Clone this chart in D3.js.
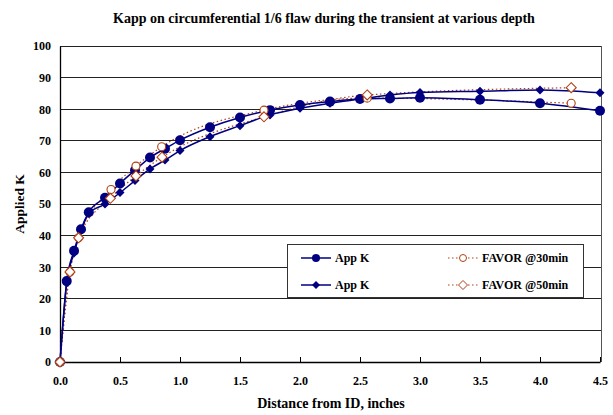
<!DOCTYPE html>
<html><head><meta charset="utf-8">
<script src="https://cdn.jsdelivr.net/npm/d3@7"></script>
<style>body{margin:0;background:#fff}svg{display:block}text{font-family:"Liberation Serif","Times New Roman",serif;font-weight:bold}</style>
</head><body><svg id="c" width="613" height="415"></svg>
<script>
const appK1X = [0, 0.056, 0.117, 0.175, 0.24, 0.375, 0.5, 0.625, 0.75, 0.875, 1.0, 1.25, 1.5, 1.75, 2.0, 2.25, 2.5, 2.75, 3.0, 3.5, 4.0, 4.5];
const appK1Y = [0, 25.6, 35.2, 42, 47.4, 52, 56.5, 60.7, 64.7, 67.5, 70.2, 74.3, 77.4, 79.7, 81.3, 82.4, 83.2, 83.4, 83.6, 83.0, 81.9, 79.5];
const appK2X = [0, 0.056, 0.117, 0.175, 0.24, 0.375, 0.5, 0.625, 0.75, 0.875, 1.0, 1.25, 1.5, 1.75, 2.0, 2.25, 2.5, 2.75, 3.0, 3.5, 4.0, 4.5];
const appK2Y = [0, 25.0, 34.5, 41.5, 47, 50, 53.6, 57.4, 61.1, 63.9, 66.9, 71.3, 74.8, 78.2, 80.3, 81.9, 83.2, 84.5, 85.3, 85.7, 86.1, 85.2];
const fav30X = [0, 0.083, 0.155, 0.425, 0.633, 0.847, 1.7, 2.56, 4.26];
const fav30Y = [0, 28.5, 39.3, 54.6, 62, 68.1, 79.7, 83.5, 81.9];
const fav50X = [0, 0.083, 0.155, 0.42, 0.633, 0.85, 1.7, 2.56, 4.26];
const fav50Y = [0, 28.5, 39.3, 51.8, 58.9, 64.8, 77.6, 84.5, 86.8];
const xTicks = [0, 0.5, 1.0, 1.5, 2.0, 2.5, 3.0, 3.5, 4.0, 4.5];
const yTicks = [0, 10, 20, 30, 40, 50, 60, 70, 80, 90, 100];
const legendLabels = ["App K", "App K", "FAVOR @30min", "FAVOR @50min"];

const svg = d3.select("#c");
const x = d3.scaleLinear().domain([0, 4.5]).range([60, 600]);
const y = d3.scaleLinear().domain([0, 100]).range([362, 46]);
const navy = "#000080", brown = "#b04010";

// gridlines
svg.append("g").selectAll("line").data(yTicks.slice(1)).join("line")
  .attr("x1", 60).attr("x2", 601).attr("y1", d => y(d)).attr("y2", d => y(d))
  .attr("stroke", "#222").attr("stroke-width", 1).attr("shape-rendering", "crispEdges");
// right border
svg.append("line").attr("x1", 601).attr("x2", 601).attr("y1", 46).attr("y2", 362)
  .attr("stroke", "#555").attr("shape-rendering", "crispEdges");

// axes
const xAxis = svg.append("g").attr("transform", "translate(0,362)")
  .call(d3.axisBottom(x).tickValues(xTicks).tickFormat(d3.format(".1f")).tickSizeInner(-5).tickSizeOuter(0).tickPadding(14));
const yAxis = svg.append("g").attr("transform", "translate(60,0)")
  .call(d3.axisLeft(y).tickValues(yTicks).tickSizeInner(0).tickSizeOuter(0).tickPadding(9));
[xAxis, yAxis].forEach(a => {
  a.select(".domain").attr("stroke", "#000").attr("stroke-width", 1.3);
  a.selectAll(".tick line").attr("stroke", "#000");
  a.selectAll("text").attr("font-size", 12).attr("fill", "#000")
    .attr("font-family", '"Liberation Serif",serif').attr("font-weight", "bold");
});

const line = d3.line().x(d => x(d[0])).y(d => y(d[1])).curve(d3.curveMonotoneX);
const zip = (a, b) => a.map((v, i) => [v, b[i]]);
const s1 = zip(appK1X, appK1Y), s2 = zip(appK2X, appK2Y), s3 = zip(fav30X, fav30Y), s4 = zip(fav50X, fav50Y);

svg.append("path").datum(s3).attr("d", line).attr("fill", "none").attr("stroke", brown).attr("stroke-width", 1.2).attr("stroke-dasharray", "1.5,2.5");
svg.append("path").datum(s4).attr("d", line).attr("fill", "none").attr("stroke", brown).attr("stroke-width", 1.2).attr("stroke-dasharray", "1.5,2.5");
svg.append("path").datum(s1).attr("d", line).attr("fill", "none").attr("stroke", navy).attr("stroke-width", 1.5);
svg.append("path").datum(s2).attr("d", line).attr("fill", "none").attr("stroke", navy).attr("stroke-width", 1.5);

const diamond = r => `M0,${-r}L${r},0L0,${r}L${-r},0Z`;
svg.append("g").selectAll("circle").data(s1).join("circle")
  .attr("cx", d => x(d[0])).attr("cy", d => y(d[1])).attr("r", 5).attr("fill", navy);
svg.append("g").selectAll("path").data(s2).join("path")
  .attr("transform", d => `translate(${x(d[0])},${y(d[1])})`).attr("d", diamond(4.5)).attr("fill", navy);
svg.append("g").selectAll("circle").data(s3).join("circle")
  .attr("cx", d => x(d[0])).attr("cy", d => y(d[1])).attr("r", 4).attr("fill", "#fff").attr("stroke", brown).attr("stroke-width", 1.1);
svg.append("g").selectAll("path").data(s4).join("path")
  .attr("transform", d => `translate(${x(d[0])},${y(d[1])})`).attr("d", diamond(5)).attr("fill", "#fff").attr("stroke", brown).attr("stroke-width", 1.1);

// legend
const lg = svg.append("g");
lg.append("rect").attr("x", 287.5).attr("y", 244.5).attr("width", 296).attr("height", 53)
  .attr("fill", "#fff").attr("stroke", "#333").attr("stroke-width", 1);
const items = [
  {lx: 301, ly: 258, c: navy, dash: null, m: "c"},
  {lx: 301, ly: 285, c: navy, dash: null, m: "d"},
  {lx: 448, ly: 258, c: brown, dash: "1.5,2.5", m: "oc"},
  {lx: 448, ly: 285, c: brown, dash: "1.5,2.5", m: "od"}
];
items.forEach((it, i) => {
  lg.append("line").attr("x1", it.lx).attr("x2", it.lx + 30).attr("y1", it.ly).attr("y2", it.ly)
    .attr("stroke", it.c).attr("stroke-width", it.dash ? 1.2 : 1.5).attr("stroke-dasharray", it.dash);
  const cx = it.lx + 15;
  if (it.m === "c") lg.append("circle").attr("cx", cx).attr("cy", it.ly).attr("r", 4).attr("fill", navy);
  if (it.m === "d") lg.append("path").attr("transform", `translate(${cx},${it.ly})`).attr("d", diamond(4)).attr("fill", navy);
  if (it.m === "oc") lg.append("circle").attr("cx", cx).attr("cy", it.ly).attr("r", 3.5).attr("fill", "#fff").attr("stroke", brown);
  if (it.m === "od") lg.append("path").attr("transform", `translate(${cx},${it.ly})`).attr("d", diamond(4.5)).attr("fill", "#fff").attr("stroke", brown);
  lg.append("text").attr("x", it.lx + 34).attr("y", it.ly + 4).attr("font-size", 12).text(legendLabels[i]);
});

// titles
svg.append("text").attr("x", 324).attr("y", 23).attr("text-anchor", "middle").attr("font-size", 14)
  .text("Kapp on circumferential 1/6 flaw during the transient at various depth");
svg.append("text").attr("x", 331).attr("y", 408).attr("text-anchor", "middle").attr("font-size", 14)
  .text("Distance from ID, inches");
svg.append("text").attr("transform", "translate(24,204) rotate(-90)").attr("text-anchor", "middle").attr("font-size", 13.5)
  .text("Applied K");
</script></body></html>
